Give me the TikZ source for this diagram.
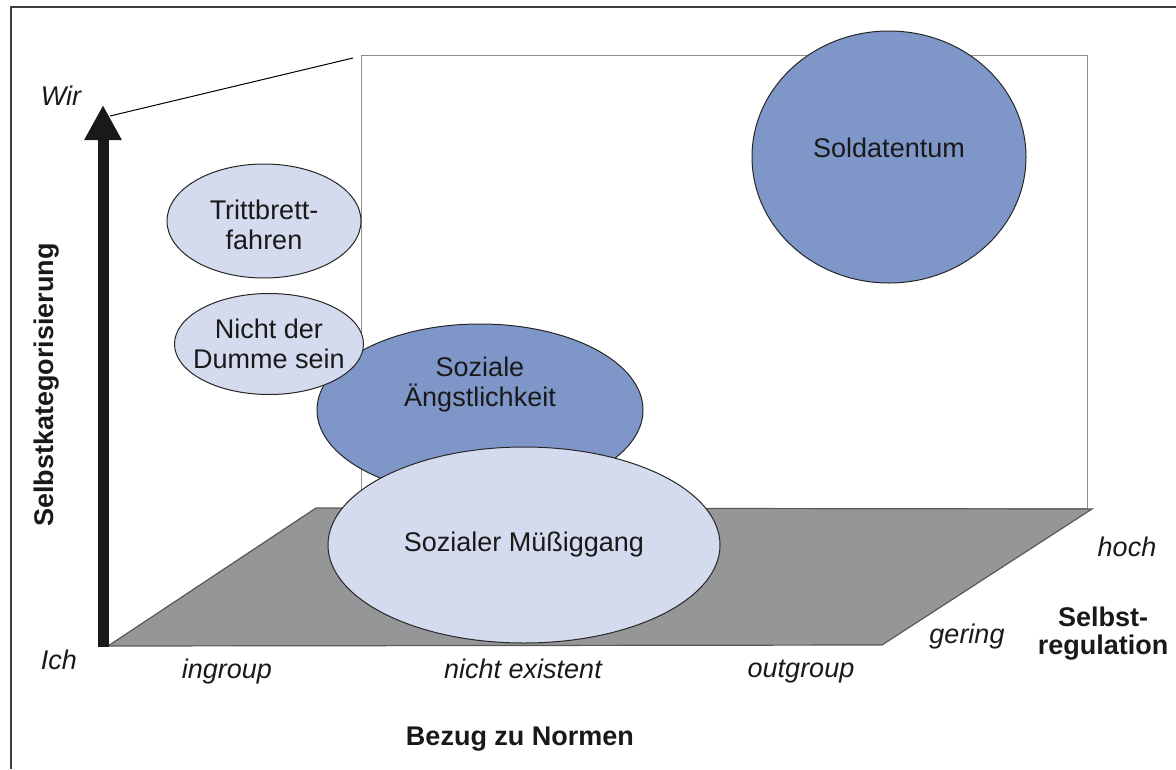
\documentclass[tikz,border=0pt]{standalone}
\usepackage{fontspec}
\setmainfont{Liberation Sans}
\usetikzlibrary{arrows.meta,shapes.geometric,positioning}

\definecolor{dunkelblau}{RGB}{127,151,200}
\definecolor{hellblau}{RGB}{213,219,238}
\definecolor{boden}{RGB}{148,150,152}

\begin{document}
\begin{tikzpicture}[x=1pt, y=-1pt,
    txt/.style={font=\fontsize{27}{30}\selectfont, text=black!90},
    achse/.style={txt, font=\fontsize{27}{30}\selectfont\itshape, inner sep=0, anchor=base},
    titel/.style={txt, font=\fontsize{27}{28}\selectfont\bfseries, align=center, inner sep=0},
    blase/.style={ellipse, draw=black!85, line width=1pt, inner sep=-25pt, align=center, txt}]
  \useasboundingbox (0,0) rectangle (1176,769);

  % frame, only left and top edge in view
  \draw[line width=2pt, black!75] (11,769) -- (11,7) -- (1176,7);

  % back wall
  \coordinate (wallTL) at (361,55);
  \coordinate (wallBR) at (1087,508);
  \draw[line width=1pt, black!45] (wallTL) rectangle (wallBR);

  % floor
  \coordinate (floorBL) at (108,646);
  \coordinate (floorBR) at (882,645);
  \coordinate (floorTR) at (1092,509);
  \coordinate (floorTL) at (316,508);
  \draw[fill=boden, draw=black!65, line width=1.2pt] (floorBL) -- (floorBR) -- (floorTR) -- (floorTL) -- cycle;

  % vertical axis
  \coordinate (ichPt) at (103,647);
  \coordinate (wirPt) at (103,105);
  \draw[line width=11pt, black!90, -{Triangle[width=35pt,length=35pt]}] (ichPt) -- (wirPt);
  \coordinate (tipSide) at (110,116);
  \coordinate (wallEnd) at (353,58);
  \draw[line width=1pt] (tipSide) -- (wallEnd);

  % bubbles
  \node[blase, fill=dunkelblau, minimum width=274pt, minimum height=252pt] (soldat) at (889,157) {};
  \node[txt] (soldatTxt) at ([yshift=9pt]soldat.center) {Soldatentum};
  \node[blase, fill=hellblau, minimum width=194pt, minimum height=114pt] (tritt) at (264,221) {};
  \node[txt, align=center] (trittTxt) at ([yshift=-4pt]tritt.center) {Trittbrett-\\fahren};
  \node[blase, fill=dunkelblau, minimum width=326pt, minimum height=172pt] (angst) at (480,410) {};
  \node[txt, align=center] (angstTxt) at ([yshift=25pt]angst.center) {Soziale\\Ängstlichkeit};
  \node[blase, fill=hellblau, minimum width=189pt, minimum height=101pt] (dumme) at (269,344) {Nicht der\\Dumme sein};
  \node[blase, fill=hellblau, minimum width=392pt, minimum height=196pt] (muss) at (524,545) {Sozialer Müßiggang};

  % axis labels
  \node[achse] (wirLbl) at (61,105) {Wir};
  \node[achse] (ichLbl) at (59,669) {Ich};
  \node[achse] (ingroupLbl) at (227,678) {ingroup};
  \node[achse] (nichtLbl) at (523,678) {nicht existent};
  \node[achse] (outgroupLbl) at (801,677) {outgroup};
  \node[achse] (hochLbl) at (1127,556) {hoch};
  \node[achse] (geringLbl) at (967,643) {gering};
  \node[titel] (regLbl) at (1103,634) {Selbst-\\regulation};
  \node[titel, anchor=base] (normLbl) at (520,745) {Bezug zu Normen};
  \node[titel, rotate=90] (kategLbl) at (47,385) {Selbstkategorisierung};
\end{tikzpicture}
\end{document}
